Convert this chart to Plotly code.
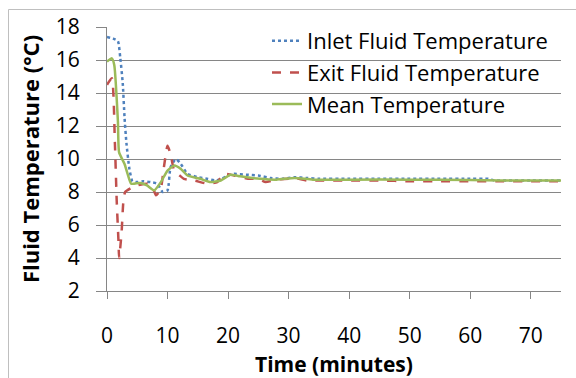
import plotly.graph_objects as go

# ---- data ----
inlet_time = [0, 1.0, 1.8, 2.2, 2.6, 2.9, 3.2, 3.7, 4.2, 5, 6, 7.2, 8.3, 9.2, 10, 10.5,
              11.4, 12.2, 13.3, 15, 16.5, 18, 19, 20, 21, 23, 25, 27, 29, 31, 33, 35,
              40, 45, 50, 55, 60, 63, 64, 66, 70, 75]
inlet_temp = [17.4, 17.3, 17.15, 16.1, 14.6, 12.5, 11.0, 9.4, 8.65, 8.6, 8.65, 8.6, 8.5,
              8.0, 8.1, 9.5, 10.0, 9.7, 9.1, 8.9, 8.8, 8.7, 8.8, 9.0, 9.1, 9.05, 9.0,
              8.85, 8.8, 8.9, 8.85, 8.8, 8.8, 8.8, 8.8, 8.8, 8.8, 8.8, 8.7, 8.7, 8.7, 8.7]

exit_time = [0, 0.8, 1.3, 1.6, 1.9, 2.0, 2.4, 2.7, 3.0, 4, 5, 6.7, 7.5, 8.1, 8.6, 9.0,
             9.4, 10.0, 10.5, 11.1, 12.0, 12.7, 14.4, 16.6, 18.2, 19.3, 21, 23.3, 25,
             26.2, 28, 30, 31, 33, 35, 40, 45, 50, 55, 60, 65, 70, 75]
exit_temp = [14.5, 14.9, 11.0, 7.5, 5.0, 4.0, 5.5, 7.4, 8.0, 8.25, 8.4, 8.5, 8.3, 7.8,
             8.0, 8.4, 9.5, 10.8, 10.3, 9.3, 9.0, 8.8, 8.7, 8.5, 8.6, 9.1, 9.0, 8.8,
             8.8, 8.6, 8.75, 8.8, 8.85, 8.7, 8.7, 8.7, 8.7, 8.65, 8.65, 8.65, 8.65,
             8.65, 8.65]

mean_time = [0, 0.8, 1.2, 1.8, 2.0, 2.9, 3.4, 4.0, 5.5, 6.6, 7.8, 8.9, 10, 11.1, 12.2,
             13.3, 15.4, 17.1, 18.8, 20.4, 22, 25.3, 28, 31, 34, 40, 50, 60, 65, 70, 75]
mean_temp = [15.9, 16.1, 15.7, 12.3, 10.4, 9.7, 9.1, 8.5, 8.55, 8.4, 8.1, 8.6, 9.3, 9.6,
             9.4, 9.0, 8.8, 8.6, 8.7, 9.05, 8.95, 8.8, 8.75, 8.85, 8.75, 8.75, 8.75,
             8.72, 8.7, 8.7, 8.7]

series_names = ["Inlet Fluid Temperature", "Exit Fluid Temperature", "Mean Temperature"]
x_ticks = [0, 10, 20, 30, 40, 50, 60, 70]
y_ticks = [2, 4, 6, 8, 10, 12, 14, 16, 18]
x_title = "Time (minutes)"
y_title = "Fluid Temperature (°C)"

FONT = "Open Sans"

fig = go.Figure()
fig.add_trace(go.Scatter(x=inlet_time, y=inlet_temp, mode="lines", name=series_names[0],
                         legendgroup="a",
                         line=dict(color="#4F81BD", width=2.5, dash="dot", shape="spline", smoothing=0.5)))
fig.add_trace(go.Scatter(x=exit_time, y=exit_temp, mode="lines", name=series_names[1],
                         legendgroup="b",
                         line=dict(color="#C0504D", width=2.5, dash="dash", shape="spline", smoothing=0.5)))
fig.add_trace(go.Scatter(x=mean_time, y=mean_temp, mode="lines", name=series_names[2],
                         legendgroup="c",
                         line=dict(color="#9BBB59", width=2.5, shape="spline", smoothing=0.5)))

L, R, T, B = 107, 15, 27, 87
W, H = 576, 378
pw, ph = W - L - R, H - T - B


def px_x(p):
    return (p - L) / pw


def px_y(p):
    return (H - B - p) / ph


fig.update_layout(
    width=W, height=H,
    margin=dict(l=L, r=R, t=T, b=B),
    paper_bgcolor="white", plot_bgcolor="white",
    font=dict(family=FONT, size=22, color="#000000"),
    showlegend=True,
    legend=dict(x=px_x(267), y=px_y(20), xanchor="left", yanchor="top",
                bgcolor="rgba(0,0,0,0)", font=dict(family=FONT, size=22, color="#000000"),
                tracegroupgap=0, itemwidth=30),
    xaxis=dict(range=[0, 75], tickvals=x_ticks, showgrid=False, zeroline=False,
               showline=True, linecolor="#868686", linewidth=1,
               ticks="outside", ticklen=7, tickcolor="#868686",
               tickfont=dict(family=FONT, size=21, color="#000000"),
               ticklabelstandoff=19, automargin=False),
    yaxis=dict(range=[2, 18], tickvals=y_ticks, showgrid=True, gridcolor="#868686",
               gridwidth=1, zeroline=False,
               showline=True, linecolor="#868686", linewidth=1,
               ticks="outside", ticklen=10, tickcolor="#868686",
               tickfont=dict(family=FONT, size=21, color="#000000"),
               ticklabelstandoff=12, automargin=False,
               title=dict(text="<b>" + y_title + "</b>", standoff=10,
                          font=dict(family=FONT, size=22))),
    annotations=[dict(text="<b>" + x_title + "</b>", xref="paper", yref="paper",
                      x=0.5, y=px_y(364), xanchor="center", yanchor="middle",
                      showarrow=False, font=dict(family=FONT, size=21, color="#000000"))],
    shapes=[dict(type="rect", xref="paper", yref="paper",
                 x0=px_x(8.5), x1=px_x(620), y0=px_y(420), y1=px_y(9.5),
                 line=dict(color="#BFBFBF", width=1), fillcolor="rgba(0,0,0,0)",
                 layer="above")],
)

fig.write_html("out.html")
